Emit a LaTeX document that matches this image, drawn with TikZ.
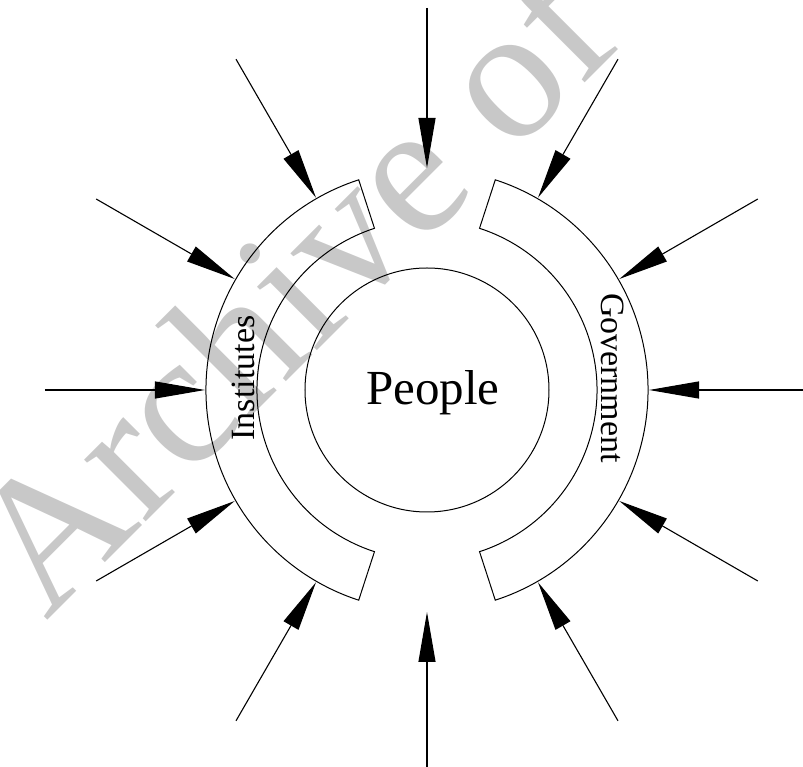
\documentclass[tikz,border=0pt]{standalone}
\usepackage{fontspec}
\setmainfont{Liberation Serif}
\usetikzlibrary{arrows.meta}
\definecolor{wmgray}{RGB}{200,200,200}
\begin{document}
\begin{tikzpicture}[x=1pt,y=1pt,
  arr/.style={line width=1.1pt, -{Triangle[length=50pt,width=17pt]}},
  ringline/.style={line width=1pt},
  sidelabel/.style={font=\fontsize{34}{34}\selectfont, inner sep=0pt},
]
\useasboundingbox (-427,-377) rectangle (376,390);
% watermark
\node[text=wmgray, rotate=45, anchor=base west, inner sep=0pt,
      font=\fontsize{190}{190}\selectfont] (wmark) at (-381,-232) {Archive of SID};
% people circle
\node[circle, draw, line width=1pt, minimum size=244pt, inner sep=0pt] (people) at (0,0) {};
\node[font=\fontsize{49}{49}\selectfont, anchor=base, inner sep=0pt] (plabel) at (6,-15) {People};
% rings
\draw[ringline] (108:221) arc[start angle=108,end angle=252,radius=221]
  -- (252:170) arc[start angle=252,end angle=108,radius=170] -- cycle;
\draw[ringline] (-72:221) arc[start angle=-72,end angle=72,radius=221]
  -- (72:170) arc[start angle=72,end angle=-72,radius=170] -- cycle;
\node[sidelabel, rotate=90] (inst) at (-184,12) {Institutes};
\node[sidelabel, rotate=-90] (gov) at (186,12) {Government};
% arrows
\foreach \a in {0,30,...,330} {
  \coordinate (s\a) at (\a:382);
  \coordinate (t\a) at (\a:222);
  \draw[arr] (s\a) -- (t\a);
}
\end{tikzpicture}
\end{document}
